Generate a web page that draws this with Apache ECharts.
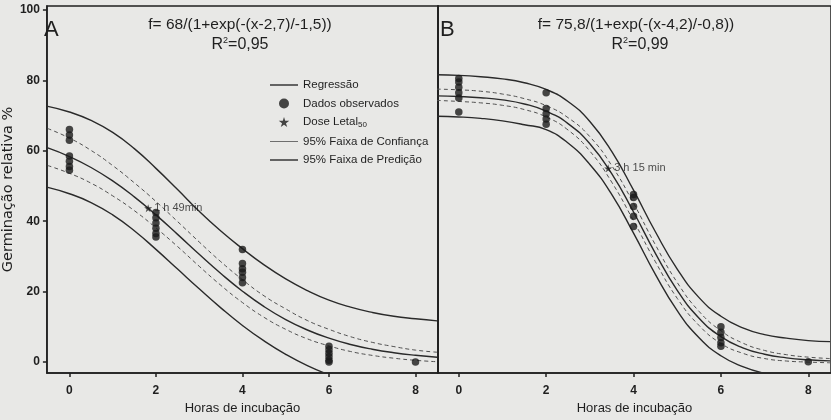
<!DOCTYPE html>
<html><head><meta charset="utf-8">
<script src="https://cdn.jsdelivr.net/npm/echarts@6/dist/echarts.min.js"></script>
<style>html,body{margin:0;padding:0;background:#e8e8e6;}#c{width:831px;height:420px;}</style>
</head><body><div id="c"></div>
<script>
// ---- data ----
const curveX = [-0.5,0,0.5,1,1.5,2,2.5,3,3.5,4,4.5,5,5.5,6,6.5,7,7.5,8,8.5];
// Panel A
const regA    = [60.8,58.35,55.25,51.44,46.92,41.79,36.26,30.61,25.14,20.13,15.74,12.07,9.11,6.78,5.0,3.66,2.66,1.93,1.39];
const confUpA = [66.3,63.6,60.1,55.8,50.9,45.6,39.9,34.1,28.5,23.4,18.8,15.1,11.8,9.3,7.2,5.6,4.4,3.4,2.8];
const confLoA = [55.8,53.6,50.8,47.2,43.0,38.1,32.8,27.2,21.8,16.9,12.7,9.3,6.6,4.6,3.0,1.9,1.1,0.5,0.1];
const predUpA = [72.6,71.0,68.6,65.2,60.6,55.0,49.0,42.8,37.2,32.2,27.6,23.6,20.3,17.6,15.6,14.1,13.0,12.3,11.7];
const predLoA = [49.6,47.8,45.3,41.8,37.3,32.0,26.4,20.8,15.4,10.4,6.0,2.2,-1.0,-3.6,-5.8,-7.5,-8.8,-9.8,-10.5];
const obsXA = [0,0,0,0,0,0,0, 2,2,2,2,2,2, 4,4,4,4,4,4, 6,6,6,6,6,6, 8];
const obsYA = [66,64.5,63,58.5,57,55.5,54.5, 42.5,41,39.5,38,36.5,35.5, 32,28,26.5,25.5,24,22.5, 4.5,3.5,2.5,1.5,0.5,0, 0];
const ldA = [1.82, 43.7];
const ldLabelA = '1 h 49min';
// Panel B
const regB    = [75.59,75.4,75.06,74.44,73.29,71.25,67.71,61.97,53.5,42.61,30.88,20.39,12.47,7.23,4.05,2.22,1.21,0.65,0.35];
const confUpB = [77.5,77.3,76.9,76.1,74.8,72.8,69.4,64.0,55.8,45.1,33.3,22.6,14.4,8.9,5.4,3.3,2.1,1.4,1.0];
const confLoB = [74.3,74.0,73.6,72.9,71.7,69.6,65.9,59.9,51.1,40.1,28.5,18.1,10.4,5.3,2.5,1.0,0.3,0.0,-0.2];
const predUpB = [81.6,81.4,81.0,80.4,79.3,77.4,74.0,68.3,59.8,48.8,37.0,26.4,18.3,13.0,9.7,7.8,6.8,6.1,5.8];
const predLoB = [69.8,69.6,69.2,68.5,67.4,66.0,62.2,56.1,47.6,36.6,24.9,14.6,6.9,1.8,-1.3,-3.2,-4.2,-4.8,-5.1];
const obsXB = [0,0,0,0,0,0, 2,2,2,2,2, 4,4,4,4,4, 6,6,6,6,6, 8];
const obsYB = [80.5,79.5,78,76.5,75,71, 76.5,72,70.5,69,67.5, 47.6,46.7,44.2,41.4,38.5, 10,8.5,7,5.5,4.5, 0.1];
const ldB = [3.42, 55];
const ldLabelB = '3 h 15 min';
const xTicks = [0,2,4,6,8];
const yTicks = [0,20,40,60,80,100];
const seriesNames = ['Regressão','Dados observados','Dose Letal50','95% Faixa de Confiança','95% Faixa de Predição'];

// ---- chart ----
const FONT = "'Liberation Sans Narrow','Arial Narrow','Liberation Sans',sans-serif";
const INK = '#1f1f1f';
const STAR = 'path://M50,0 L61,35 L98,35 L68,57 L79,91 L50,70 L21,91 L32,57 L2,35 L39,35 Z';
const pairs = (xs, ys) => xs.map((x,i)=>[x, ys[i]]);

function axisX(idx){
  return {type:'value', gridIndex:idx, min: idx===0 ? -0.52 : -0.476, max: 8.52,
    axisLine:{show:true, onZero:false, lineStyle:{color:INK, width:1.5}},
    axisTick:{show:true, customValues:xTicks, length:4, inside:false, lineStyle:{color:INK,width:1.5}},
    axisLabel:{show:true, customValues:xTicks, margin:12, fontFamily:FONT, fontWeight:'bold', fontSize:12, color:INK},
    splitLine:{show:false},
    name:'Horas de incubação', nameLocation:'middle', nameGap:29,
    nameTextStyle:{fontFamily:FONT, fontSize:13, color:INK}};
}
function axisY(idx){
  const a = {type:'value', gridIndex:idx, min:-3.1, max:101.1,
    axisLine:{show:true, onZero:false, lineStyle:{color:INK, width:1.5}},
    splitLine:{show:false}};
  if(idx===0){
    a.axisTick = {show:true, customValues:yTicks, length:4, lineStyle:{color:INK,width:1.5}};
    a.axisLabel = {show:true, customValues:yTicks, margin:7, fontFamily:FONT, fontWeight:'bold', fontSize:12, color:INK};
    a.name = 'Germinação relativa %'; a.nameLocation='middle'; a.nameGap=19;
    a.nameTextStyle = {fontFamily:"'DejaVu Sans',sans-serif", fontSize:14.5, color:INK};
  } else {
    a.axisTick = {show:false}; a.axisLabel = {show:false};
  }
  return a;
}
function line(name, idx, ys, dashed){
  const c = dashed ? '#505050' : '#2a2a2a';
  return {type:'line', name, xAxisIndex:idx, yAxisIndex:idx, data:pairs(curveX, ys),
    smooth:true, symbol:'none', showSymbol:false, silent:true, clip:true,
    color:c, itemStyle:{color:c},
    lineStyle: dashed ? {color:c, width:1, type:[4,3]} : {color:c, width:1.4}};
}
function panel(idx, reg, cu, cl, pu, pl, ox, oy, ld, ldLabel){
  return [
    line(seriesNames[0], idx, reg, false),
    line(seriesNames[3], idx, cu, true),
    line(seriesNames[3], idx, cl, true),
    line(seriesNames[4], idx, pu, false),
    line(seriesNames[4], idx, pl, false),
    {type:'scatter', name:seriesNames[1], xAxisIndex:idx, yAxisIndex:idx, data:pairs(ox, oy),
      symbol:'circle', symbolSize:7.5, itemStyle:{color:'#1a1a1a'}, z:5},
    {type:'scatter', name:seriesNames[2], xAxisIndex:idx, yAxisIndex:idx, data:[ld],
      symbol:STAR, symbolSize:8, itemStyle:{color:'#1a1a1a'}, z:6,
      label:{show:true, position:'right', distance:2, formatter:ldLabel, fontFamily:FONT, fontSize:11, color:INK}}
  ];
}
const chart = echarts.init(document.getElementById('c'), null, {renderer:'canvas'});
const legIcon = 'path://M0,5 L28,5 L28,6.4 L0,6.4 Z';
chart.setOption({
  backgroundColor:'#e8e8e6',
  animation:false,
  grid:[
    {left:39, top:6, width:399, height:368, show:true, borderColor:INK, borderWidth:1.5, backgroundColor:'transparent'},
    {left:438, top:6, width:397, height:368, show:true, borderColor:INK, borderWidth:1.5, backgroundColor:'transparent'}
  ],
  xAxis:[axisX(0), axisX(1)],
  yAxis:[axisY(0), axisY(1)],
  legend:{orient:'vertical', left:265, top:74, itemWidth:28, itemHeight:10, itemGap:6.5,
    selectedMode:false,
    data:[
      {name:seriesNames[0], icon:legIcon, itemStyle:{color:'#2a2a2a'}},
      {name:seriesNames[1], icon:'circle', itemStyle:{color:'#1a1a1a'}},
      {name:seriesNames[2], icon:STAR, itemStyle:{color:'#1a1a1a'}},
      {name:seriesNames[3], icon:'path://M0,5 L28,5 L28,5.9 L0,5.9 Z', itemStyle:{color:'#606060'}},
      {name:seriesNames[4], icon:legIcon, itemStyle:{color:'#2a2a2a'}}
    ],
    formatter: n => n==='Dose Letal50' ? 'Dose Letal{sub|50}' : n,
    textStyle:{fontFamily:FONT, fontSize:11.5, color:INK,
      rich:{sub:{fontFamily:FONT, fontSize:8, color:INK, padding:[6,0,0,0]}}}
  },
  graphic:[
    {type:'text', left:44, top:19, style:{text:'A', font:"22px 'Liberation Sans',sans-serif", fill:INK}},
    {type:'text', left:440, top:19, style:{text:'B', font:"22px 'Liberation Sans',sans-serif", fill:INK}},
    {type:'text', x:240, y:25, style:{text:'f= 68/(1+exp(-(x-2,7)/-1,5))', font:"15.5px "+FONT, fill:INK, align:'center', verticalAlign:'middle'}},
    {type:'text', x:240, y:45, style:{text:'R{sup|2}=0,95', font:"16px "+FONT, fill:INK, align:'center', verticalAlign:'middle',
      rich:{sup:{font:"9px "+FONT, fill:INK, padding:[0,0,8,0]}}}},
    {type:'text', x:636, y:25, style:{text:'f= 75,8/(1+exp(-(x-4,2)/-0,8))', font:"15.5px "+FONT, fill:INK, align:'center', verticalAlign:'middle'}},
    {type:'text', x:640, y:45, style:{text:'R{sup|2}=0,99', font:"16px "+FONT, fill:INK, align:'center', verticalAlign:'middle',
      rich:{sup:{font:"9px "+FONT, fill:INK, padding:[0,0,8,0]}}}}
  ],
  series:[].concat(
    panel(0, regA, confUpA, confLoA, predUpA, predLoA, obsXA, obsYA, ldA, ldLabelA),
    panel(1, regB, confUpB, confLoB, predUpB, predLoB, obsXB, obsYB, ldB, ldLabelB)
  )
});
</script></body></html>
